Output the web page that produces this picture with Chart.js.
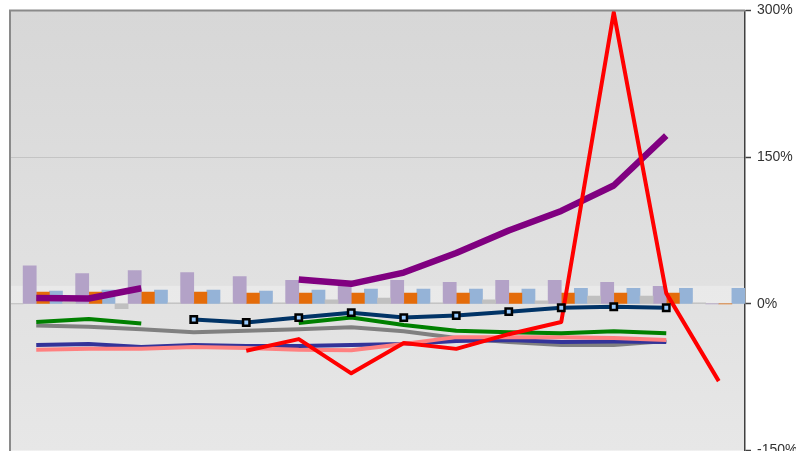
<!DOCTYPE html>
<html>
<head>
<meta charset="utf-8">
<script src="https://cdn.jsdelivr.net/npm/chart.js@4.4.1/dist/chart.umd.min.js"></script>
<style>
  html, body { margin: 0; padding: 0; background: #ffffff; overflow: hidden; }
  body { width: 796px; height: 451px; }
  #wrap { position: relative; width: 796px; height: 469px; margin-top: -4px; }
</style>
</head>
<body>
<div id="wrap"><canvas id="c"></canvas></div>
<script>
// ---- Data (values in %) ----
const categories = ['1','2','3','4','5','6','7','8','9','10','11','12','13','14'];
const yTicks = [-150, 0, 150, 300];

// bar series
const barGray   = [0, 2, -5, 1, 1, 1, 4, 6, 1, 4, 3, 8, 8, 1];
const barPurple = [39, 31, 34, 32, 28, 24, 20, 24, 22, 24, 24, 22, 18, 0];
const barOrange = [12, 12, 12, 12, 11, 11, 11, 11, 11, 11, 11, 11, 11, 0];
const barBlue   = [13, 14, 14, 14, 13, 14, 15, 15, 15, 15, 16, 16, 16, 16];

// line series
const linePurple = [6, 5.5, 16, null, null, 25, 20.5, 32, 52, 75, 95, 121, 172, null];
const lineRed    = [null, null, null, null, -48, -36, -71, -40, -46, -31, -18.5, 298, 11, -79];
const lineNavy   = [null, null, null, -16, -19, -14, -9, -14, -12, -8, -4, -3, -4, null];
const lineGreen  = [-18.5, -15.5, -20, null, null, -19.5, -14, -21.5, -27.5, -29, -30, -28, -30, null];
const lineGray   = [-22, -23.5, -26, -29, -27.5, -26, -24, -28, -35, -39, -42, -42, -38, null];
const lineBlue   = [-42, -41, -44, -42, -43, -43, -42, -41, -38, -37, -39, -38.5, -39, null];
const linePink   = [-47, -46, -46, -44, -45, -47, -47.5, -41, -34, -34, -34, -35, -37, null];

// light band behind bars (value range)
const bandRange = [0, 18.5];

const bgPlugin = {
  id: 'bg',
  beforeDraw(chart) {
    const { ctx, chartArea: a, scales: { y } } = chart;
    ctx.save();
    const g = ctx.createLinearGradient(0, a.top, 0, a.bottom);
    g.addColorStop(0, '#d7d7d7');
    g.addColorStop(1, '#e7e7e7');
    ctx.fillStyle = g;
    ctx.fillRect(a.left, a.top, a.right - a.left, a.bottom - a.top);
    const y1 = y.getPixelForValue(bandRange[1]);
    const y0 = y.getPixelForValue(bandRange[0]);
    ctx.fillStyle = 'rgba(255,255,255,0.28)';
    ctx.fillRect(a.left, y1, a.right - a.left, y0 - y1);
    ctx.restore();
  },
  afterDraw(chart) {
    const { ctx, chartArea: a } = chart;
    ctx.save();
    ctx.strokeStyle = '#8a8a8a';
    ctx.lineWidth = 2;
    ctx.beginPath();
    ctx.moveTo(a.left, a.bottom + 5);
    ctx.lineTo(a.left, a.top);
    ctx.lineTo(a.right, a.top);
    ctx.stroke();
    ctx.restore();
  }
};

function bar(data, color) {
  return { type: 'bar', data, backgroundColor: color, borderWidth: 0, order: 20,
           categoryPercentage: 1, barPercentage: 1 };
}
function line(data, color, width, order, extra) {
  return Object.assign({ type: 'line', data, borderColor: color, backgroundColor: color,
           borderWidth: width, pointRadius: 0, tension: 0, spanGaps: false, order,
           borderCapStyle: 'butt', borderJoinStyle: 'round' }, extra || {});
}

new Chart(document.getElementById('c'), {
  type: 'bar',
  data: {
    labels: categories,
    datasets: [
      bar(barGray, '#c0c0c0'),
      bar(barPurple, '#b3a2c7'),
      bar(barOrange, '#e46c0a'),
      bar(barBlue, '#95b3d7'),
      line(lineGray, '#808080', 4, 8),
      line(lineBlue, '#333399', 4, 7),
      line(linePink, '#ff8080', 4, 6),
      line(lineGreen, '#008000', 4, 5),
      line(linePurple, '#800080', 6.5, 4),
      line(lineRed, '#ff0000', 4, 3),
      line(lineNavy, '#003366', 4, 2, {
        pointRadius: 4.5, pointStyle: 'rect', pointBackgroundColor: '#99ccff',
        pointBorderColor: '#000000', pointBorderWidth: 2.5
      })
    ]
  },
  options: {
    responsive: true,
    maintainAspectRatio: false,
    animation: false,
    layout: { padding: { left: 10, top: 6, right: 0, bottom: 0 } },
    plugins: { legend: { display: false }, tooltip: { enabled: false } },
    scales: {
      x: { display: false, offset: true, grid: { display: false } },
      y: {
        position: 'right',
        min: -150, max: 300,
        afterBuildTicks(scale) { scale.ticks = yTicks.map(v => ({ value: v })); },
        afterFit(scale) { scale.width = 51; },
        ticks: {
          callback: v => v + '%',
          color: '#333333',
          font: { family: 'Liberation Sans, Arial, sans-serif', size: 14 },
          padding: 6
        },
        grid: {
          drawOnChartArea: true,
          color: ctx => (ctx.tick && (ctx.tick.value === 150)) ? '#c4c4c4' : (ctx.tick && ctx.tick.value === 0 ? '#cfcfcf' : 'rgba(0,0,0,0)'),
          lineWidth: 1,
          tickLength: 6,
          tickColor: '#404040',
          tickWidth: 1.5
        },
        border: { display: true, color: '#404040', width: 1.5 }
      }
    }
  },
  plugins: [bgPlugin]
});
</script>
</body>
</html>
